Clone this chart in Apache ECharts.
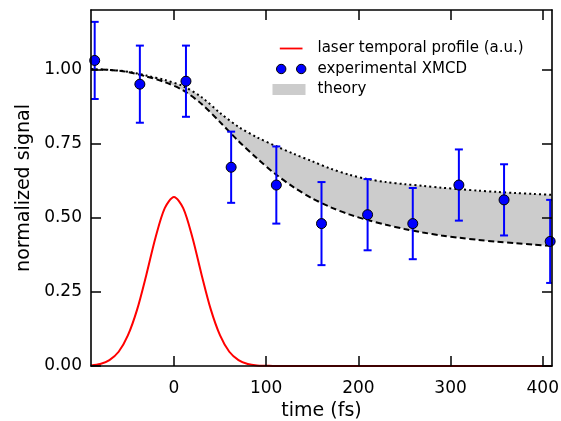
<!DOCTYPE html>
<html>
<head>
<meta charset="utf-8">
<script src="https://cdn.jsdelivr.net/npm/echarts@6/dist/echarts.min.js"></script>
<style>
  html, body { margin: 0; padding: 0; background: #ffffff; }
  #chart { width: 561px; height: 421px; }
</style>
</head>
<body>
<div id="chart"></div>
<script>
// ---- data ----
const xTicks = [0, 100, 200, 300, 400];
const yTicks = [0, 0.25, 0.5, 0.75, 1.0];

// experimental XMCD points
const expTime  = [-86, -37, 13, 62, 111, 160, 210, 259, 309, 358, 408];
const expValue = [1.03, 0.95, 0.96, 0.67, 0.61, 0.48, 0.51, 0.48, 0.61, 0.56, 0.42];
const expError = [0.13, 0.13, 0.12, 0.12, 0.13, 0.14, 0.12, 0.12, 0.12, 0.12, 0.14];

// laser temporal profile (a.u.), sampled every 10 fs
const laserTime = [-90,-80,-70,-60,-50,-40,-30,-20,-10,0,10,20,30,40,50,60,70,80,90,100,
                   110,120,130,140,150,160,170,180,190,200,210,220,230,240,250,260,270,280,290,300,
                   310,320,330,340,350,360,370,380,390,400,410];
const laserValue = [0.002,0.007,0.020,0.048,0.103,0.190,0.307,0.433,0.532,0.570,0.532,0.433,0.307,0.190,0.103,0.048,0.020,0.007,0.002,0.001,
                    0,0,0,0,0,0,0,0,0,0,0,0,0,0,0,0,0,0,0,0,
                    0,0,0,0,0,0,0,0,0,0,0];

// theory band (lower = dashed, upper = dotted)
const theoryTime  = [-90,-70,-50,-30,-10,10,30,50,70,90,110,130,150,170,190,210,230,250,270,290,310,330,350,370,390,410];
const theoryLower = [1.000,0.998,0.991,0.976,0.957,0.929,0.883,0.822,0.758,0.700,0.647,0.602,0.565,0.535,0.511,0.492,0.476,0.462,0.450,0.440,0.432,0.425,0.419,0.414,0.409,0.405];
const theoryUpper = [1.000,0.998,0.992,0.979,0.964,0.943,0.906,0.853,0.806,0.771,0.742,0.715,0.690,0.665,0.645,0.630,0.620,0.613,0.607,0.601,0.596,0.591,0.587,0.583,0.580,0.577];

// ---- build chart ----
const FONT = 'DejaVu Sans';
const pairs = (xs, ys) => xs.map((x, i) => [x, ys[i]]);

const chart = echarts.init(document.getElementById('chart'), null, { renderer: 'canvas' });

const axisCommon = {
  z: 20,
  axisLine: { show: true, onZero: false, lineStyle: { color: '#000', width: 1.6 } },
  axisTick: { show: true, inside: true, length: 10, lineStyle: { color: '#000', width: 1.5 } },
  splitLine: { show: false }
};

const option = {
  animation: false,
  backgroundColor: '#ffffff',
  grid: { left: 91, right: 9, top: 10, bottom: 55, containLabel: false, outerBoundsMode: 'none' },
  legend: {
    orient: 'vertical',
    left: 267,
    top: 36,
    itemWidth: 40,
    itemHeight: 11,
    itemGap: 5.5,
    selectedMode: false,
    textStyle: { fontFamily: FONT, fontSize: 15, color: '#000' },
    data: [
      { name: 'laser temporal profile (a.u.)',
        icon: 'path://M0,0M40,11M7.3,4.6h22.7v1.8h-22.7z',
        itemStyle: { color: '#ff0000', borderWidth: 0 } },
      { name: 'experimental XMCD',
        icon: 'path://M0,0M40,11M4,5.5a4.7,4.7 0 1,0 9.4,0a4.7,4.7 0 1,0 -9.4,0zM24,5.5a4.7,4.7 0 1,0 9.4,0a4.7,4.7 0 1,0 -9.4,0z',
        itemStyle: { color: '#0000ff', borderColor: '#000', borderWidth: 1 } },
      { name: 'theory',
        icon: 'path://M0,0h33v11h-33zM40,11',
        itemStyle: { color: '#cccccc', borderWidth: 0 } }
    ]
  },
  xAxis: [
    Object.assign({}, axisCommon, {
      type: 'value', position: 'bottom', min: -90, max: 410,
      name: 'time (fs)', nameLocation: 'middle', nameGap: 36,
      nameTextStyle: { fontFamily: FONT, fontSize: 19, color: '#000' },
      axisTick: Object.assign({}, axisCommon.axisTick, { customValues: xTicks }),
      axisLabel: { customValues: xTicks, fontFamily: FONT, fontSize: 17, color: '#000', margin: 14 }
    }),
    Object.assign({}, axisCommon, {
      type: 'value', position: 'top', min: -90, max: 410,
      axisTick: Object.assign({}, axisCommon.axisTick, { customValues: xTicks }),
      axisLabel: { show: false }
    })
  ],
  yAxis: [
    Object.assign({}, axisCommon, {
      type: 'value', position: 'left', min: 0, max: 1.2,
      name: 'normalized signal', nameLocation: 'middle', nameGap: 56,
      nameTextStyle: { fontFamily: FONT, fontSize: 19, color: '#000' },
      axisTick: Object.assign({}, axisCommon.axisTick, { customValues: yTicks }),
      axisLabel: { customValues: yTicks, fontFamily: FONT, fontSize: 17, color: '#000', margin: 9,
                   formatter: v => v.toFixed(2) }
    }),
    Object.assign({}, axisCommon, {
      type: 'value', position: 'right', min: 0, max: 1.2,
      axisTick: Object.assign({}, axisCommon.axisTick, { customValues: yTicks }),
      axisLabel: { show: false }
    })
  ],
  series: [
    // grey fill under the upper theory curve
    { name: 'theory', type: 'line', smooth: 0.3, symbol: 'none', color: '#cccccc',
      data: pairs(theoryTime, theoryUpper),
      lineStyle: { opacity: 0, width: 0 }, areaStyle: { color: '#cccccc', opacity: 1 }, z: 1, silent: true },
    // white mask under the lower theory curve -> leaves the band between them
    { name: 'theoryMask', type: 'line', smooth: 0.3, symbol: 'none', color: '#ffffff',
      data: pairs(theoryTime, theoryLower),
      lineStyle: { opacity: 0, width: 0 }, areaStyle: { color: '#ffffff', opacity: 1 }, z: 2, silent: true },
    { name: 'theoryLowerLine', type: 'line', smooth: 0.3, symbol: 'none',
      data: pairs(theoryTime, theoryLower),
      lineStyle: { color: '#000', width: 2, type: [6, 3.5] }, z: 3, silent: true },
    { name: 'theoryUpperLine', type: 'line', smooth: 0.3, symbol: 'none',
      data: pairs(theoryTime, theoryUpper),
      lineStyle: { color: '#000', width: 2, type: [2, 3] }, z: 3, silent: true },
    { name: 'laser temporal profile (a.u.)', type: 'line', smooth: 0.3, symbol: 'none',
      color: '#ff0000',
      data: pairs(laserTime, laserValue),
      lineStyle: { color: '#ff0000', width: 2 }, z: 4, silent: true },
    { name: 'errorbars', type: 'custom', clip: true, z: 5, silent: true,
      data: expTime.map((x, i) => [x, expValue[i], expError[i]]),
      renderItem: function (params, api) {
        const x = api.value(0), y = api.value(1), e = api.value(2);
        const top = api.coord([x, y + e]);
        const bot = api.coord([x, y - e]);
        const hw = 4;
        const st = { stroke: '#0000ff', lineWidth: 2 };
        return { type: 'group', children: [
          { type: 'line', shape: { x1: top[0], y1: top[1], x2: bot[0], y2: bot[1] }, style: st },
          { type: 'line', shape: { x1: top[0] - hw, y1: top[1], x2: top[0] + hw, y2: top[1] }, style: st },
          { type: 'line', shape: { x1: bot[0] - hw, y1: bot[1], x2: bot[0] + hw, y2: bot[1] }, style: st }
        ]};
      }
    },
    { name: 'experimental XMCD', type: 'scatter', symbol: 'circle', symbolSize: 10, z: 6, clip: true,
      color: '#0000ff',
      data: pairs(expTime, expValue),
      itemStyle: { color: '#0000ff', borderColor: '#000', borderWidth: 1, opacity: 1 } }
  ]
};

chart.setOption(option);
</script>
</body>
</html>
